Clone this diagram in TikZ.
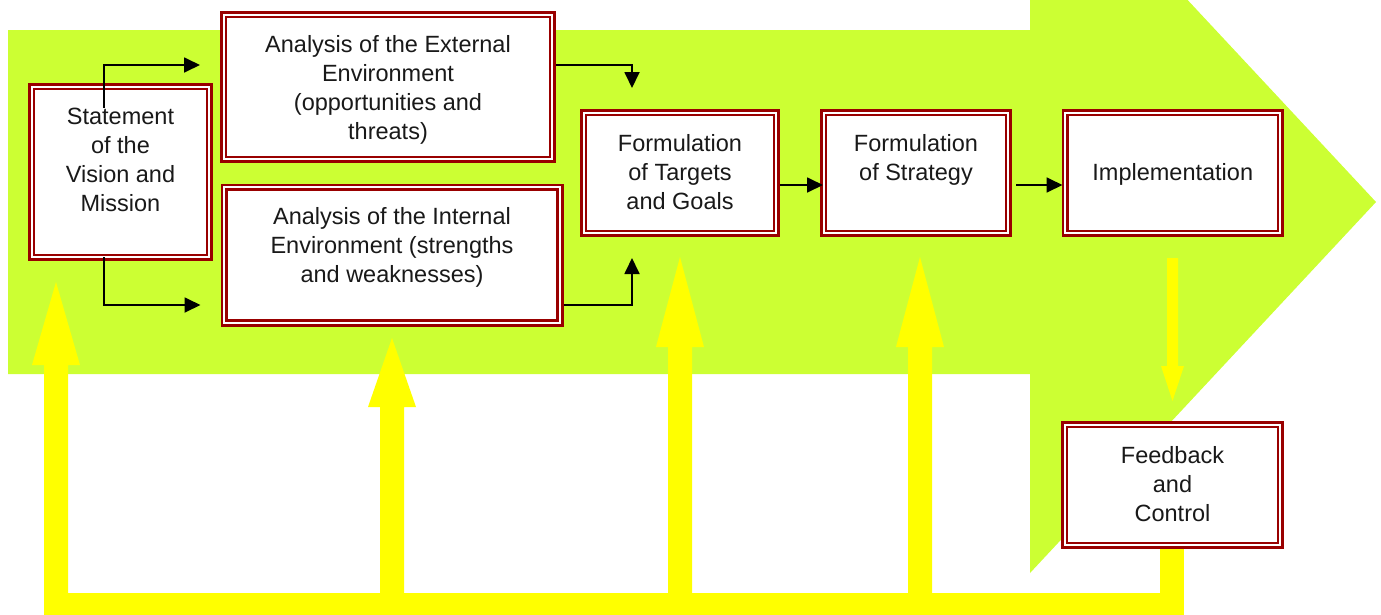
\documentclass[tikz,border=0pt]{standalone}
\usepackage{fontspec}
\setmainfont{Liberation Sans}
\usetikzlibrary{arrows.meta,calc}
\definecolor{lime}{HTML}{CCFF33}
\definecolor{ylw}{HTML}{FFFF00}
\definecolor{dred}{HTML}{990000}
\begin{document}
\begin{tikzpicture}[x=1pt,y=-1pt,
  box/.style={draw=dred, line width=2.6pt, double=white, double distance=2.2pt, fill=white, outer sep=3.7pt, inner sep=0pt},
  lbl/.style={font=\fontsize{23.5}{29}\selectfont, align=center, text=black!90, inner sep=0pt},
  conn/.style={line width=1.8pt, -{Triangle[length=16pt,width=15pt]}},
  bigarrow/.style={fill=lime},
  fb/.style={fill=ylw}
]
\useasboundingbox (0,0) rectangle (1381,614);
\clip (0,0) rectangle (1381,614);
% big green arrow
\fill[bigarrow] (8,30) -- (1030,30) -- (1030,-169) -- (1376,202) -- (1030,573) -- (1030,374) -- (8,374) -- cycle;
% yellow feedback arrows
\fill[fb] (44,593) rectangle (1184,620);
\fill[fb] (44,620) -- (44,365) -- (32,365) -- (56,282) -- (80,365) -- (68,365) -- (68,620) -- cycle;
\fill[fb] (380,620) -- (380,407) -- (368,407) -- (392,338) -- (416,407) -- (404,407) -- (404,620) -- cycle;
\fill[fb] (668,620) -- (668,347) -- (656,347) -- (680,257) -- (704,347) -- (692,347) -- (692,620) -- cycle;
\fill[fb] (908,620) -- (908,347) -- (896,347) -- (920,257) -- (944,347) -- (932,347) -- (932,620) -- cycle;
\fill[fb] (1160,540) rectangle (1184,620);
\fill[fb] (1167,258) -- (1178,258) -- (1178,366) -- (1184,366) -- (1172.5,401) -- (1161,366) -- (1167,366) -- cycle;
% boxes
\node[box, minimum width=177.6pt, minimum height=170.6pt] (stm) at (120.5,172) {};
\node[box, minimum width=328.6pt, minimum height=144.6pt] (ext) at (388,87) {};
\node[box, minimum width=335.6pt, minimum height=135.6pt] (int) at (392,255) {};
\node[box, minimum width=192.6pt, minimum height=120.6pt] (tgt) at (680,173) {};
\node[box, minimum width=184.6pt, minimum height=120.6pt] (str) at (916,173) {};
\node[box, minimum width=215.1pt, minimum height=120.6pt] (imp) at (1172.75,173) {};
\node[box, minimum width=215.6pt, minimum height=120.6pt] (fbc) at (1172.5,485) {};
% labels
\node[lbl] (stm-t) at ($(stm.center)+(0,-12.5)$) {Statement\\of the\\Vision and\\Mission};
\node[lbl] (ext-t) at ($(ext.center)+(0,3)$) {Analysis of the External\\Environment\\(opportunities and\\threats)};
\node[lbl] (int-t) at ($(int.center)+(0,-8)$) {Analysis of the Internal\\Environment (strengths\\and weaknesses)};
\node[lbl] (tgt-t) at ($(tgt.center)+(0,-1)$) {Formulation\\of Targets\\and Goals};
\node[lbl] (str-t) at ($(str.center)+(0,-13.5)$) {Formulation\\of Strategy};
\node[lbl] (imp-t) at ($(imp.center)+(0,1)$) {Implementation};
\node[lbl] (fbc-t) at ($(fbc.center)+(0,-1)$) {Feedback\\and\\Control};
% connectors
\draw[conn] ([xshift=-16.5pt,yshift=-25pt]stm.north) |- ([xshift=-20pt,yshift=22pt]ext.west);
\draw[conn] ([xshift=-16.5pt,yshift=4pt]stm.south) |- ([xshift=-20pt,yshift=-50pt]int.west);
\draw[conn] ([yshift=22pt]ext.east) -| ([xshift=-48pt,yshift=21pt]tgt.north);
\draw[conn] ([yshift=-50pt]int.east) -| ([xshift=-48pt,yshift=-21pt]tgt.south);
\draw[conn] ([yshift=-12pt]tgt.east) -- ([xshift=3pt,yshift=-12pt]str.west);
\draw[conn] ([xshift=4pt,yshift=-12pt]str.east) -- ([xshift=1pt,yshift=-12pt]imp.west);
\end{tikzpicture}
\end{document}
